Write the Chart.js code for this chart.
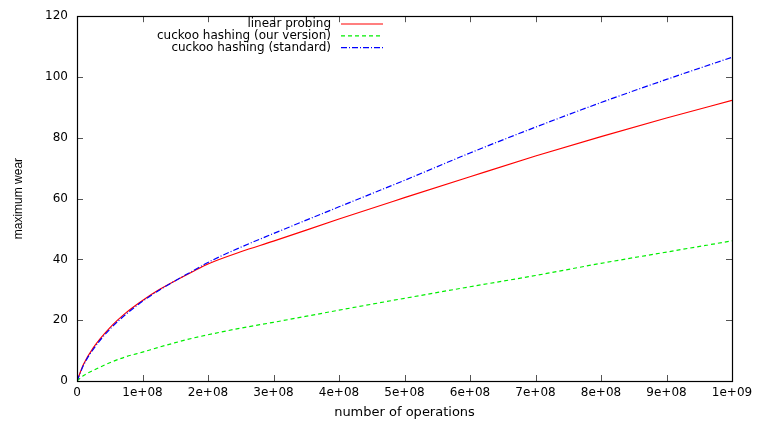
<!DOCTYPE html>
<html>
<head>
<meta charset="utf-8">
<script src="https://cdn.jsdelivr.net/npm/chart.js@4"></script>
<style>
  body { margin: 0; background: #fff; }
  #wrap { width: 758px; height: 421px; }
</style>
</head>
<body>
<div id="wrap"><canvas id="wearChart"></canvas></div>
<script>
// number of operations (x) and maximum wear for each scheme
const operations = [0, 1e7, 2.5e7, 5e7, 7.5e7, 1e8, 1.25e8, 1.5e8, 1.75e8, 2e8, 2.5e8, 3e8, 4e8, 5e8, 6e8, 7e8, 8e8, 9e8, 1e9];
const linearProbing = [0, 5.5, 11, 17.5, 22.5, 26.5, 30, 33, 35.8, 38.5, 42.5, 46, 53.3, 60.3, 67.2, 74, 80.4, 86.5, 92.3];
const cuckooOurs = [0, 1.8, 3.5, 6, 8, 9.5, 11.1, 12.6, 14, 15.2, 17.4, 19.3, 23.3, 27.2, 31, 34.7, 38.7, 42.4, 46.1];
const cuckooStandard = [0, 5.2, 10.5, 17, 22, 26.2, 29.8, 33, 36, 39, 44, 48.5, 57.3, 66, 75, 83.5, 91.6, 99.2, 106.5];

const seriesNames = ['linear probing', 'cuckoo hashing (our version)', 'cuckoo hashing (standard)'];
const seriesColors = ['#ff0000', '#00ee00', '#0000ff'];
const seriesDash = [[], [4, 3], [6, 2, 1, 2]];
const xTickLabels = ['0', '1e+08', '2e+08', '3e+08', '4e+08', '5e+08', '6e+08', '7e+08', '8e+08', '9e+08', '1e+09'];
const yTickLabels = ['0', '20', '40', '60', '80', '100', '120'];

const FONT = '"DejaVu Sans", sans-serif';

function toPoints(ys) {
    return operations.map((x, i) => ({ x: x, y: ys[i] }));
}

// gnuplot style frame with inward ticks on all four sides
const framePlugin = {
    id: 'frame',
    afterDatasetsDraw(chart) {
        const ctx = chart.ctx;
        const a = chart.chartArea;
        const xs = chart.scales.x, ys = chart.scales.y;
        const tl = 6;
        ctx.save();
        ctx.strokeStyle = '#555';
        ctx.lineWidth = 1;
        ctx.beginPath();
        xs.ticks.forEach(t => {
            const px = Math.round(xs.getPixelForValue(t.value)) + 0.5;
            ctx.moveTo(px, a.bottom); ctx.lineTo(px, a.bottom - tl);
            ctx.moveTo(px, a.top); ctx.lineTo(px, a.top + tl);
        });
        ys.ticks.forEach(t => {
            const py = Math.round(ys.getPixelForValue(t.value)) + 0.5;
            ctx.moveTo(a.left, py); ctx.lineTo(a.left + tl, py);
            ctx.moveTo(a.right, py); ctx.lineTo(a.right - tl, py);
        });
        ctx.stroke();
        ctx.strokeStyle = '#000';
        ctx.lineWidth = 1.2;
        ctx.strokeRect(Math.round(a.left) + 0.5, Math.round(a.top) + 0.5,
            Math.round(a.right - a.left), Math.round(a.bottom - a.top));

        // legend, text right-aligned before the line sample
        ctx.font = '12px ' + FONT;
        ctx.textAlign = 'right';
        ctx.textBaseline = 'middle';
        seriesNames.forEach((name, i) => {
            const y = 24 + i * 11.8;
            ctx.fillStyle = '#000';
            ctx.fillText(name, 331, y);
            ctx.strokeStyle = seriesColors[i];
            ctx.lineWidth = 1.2;
            ctx.setLineDash(seriesDash[i]);
            ctx.beginPath();
            ctx.moveTo(341, y); ctx.lineTo(383, y);
            ctx.stroke();
            ctx.setLineDash([]);
        });
        ctx.restore();
    }
};

const ctxWear = document.getElementById('wearChart').getContext('2d');
const wearChart = new Chart(ctxWear, {
    type: 'line',
    data: {
        datasets: [linearProbing, cuckooOurs, cuckooStandard].map((vals, i) => ({
            label: seriesNames[i],
            data: toPoints(vals),
            borderColor: seriesColors[i],
            borderWidth: 1.2,
            borderDash: seriesDash[i],
            order: 3 - i
        }))
    },
    options: {
        responsive: true,
        maintainAspectRatio: false,
        animation: false,
        layout: { padding: { top: 13, right: 26, left: 0, bottom: 0 } },
        elements: {
            point: { radius: 0 },
            line: { cubicInterpolationMode: 'monotone', fill: false }
        },
        plugins: {
            legend: { display: false },
            tooltip: { enabled: false }
        },
        scales: {
            x: {
                type: 'linear',
                min: 0,
                max: 1e9,
                grid: { display: false, drawTicks: false },
                border: { display: false },
                afterFit: s => { s.height = 40; },
                ticks: {
                    stepSize: 1e8,
                    maxRotation: 0,
                    autoSkip: false,
                    padding: 5,
                    color: '#000',
                    font: { family: FONT, size: 12 },
                    callback: (v, i) => xTickLabels[i]
                },
                title: {
                    display: true,
                    text: 'number of operations',
                    color: '#000',
                    font: { family: FONT, size: 13 },
                    padding: { top: 0, bottom: 1 }
                }
            },
            y: {
                min: 0,
                max: 120,
                grid: { display: false, drawTicks: false },
                border: { display: false },
                afterFit: s => { s.width = 77; },
                ticks: {
                    stepSize: 20,
                    padding: 9,
                    color: '#000',
                    font: { family: FONT, size: 12 },
                    callback: (v, i) => yTickLabels[i]
                },
                title: {
                    display: true,
                    text: 'maximum wear',
                    color: '#000',
                    font: { family: '"Liberation Sans Narrow", "Liberation Sans", sans-serif', size: 12 },
                    padding: { top: 11, bottom: 0 }
                }
            }
        }
    },
    plugins: [framePlugin]
});
</script>
</body>
</html>
